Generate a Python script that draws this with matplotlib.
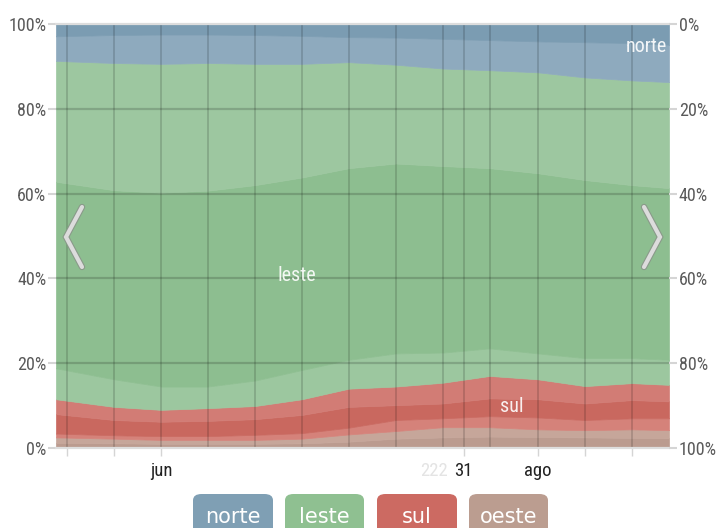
import matplotlib
matplotlib.use("Agg")
import matplotlib.pyplot as plt
from matplotlib.patches import FancyBboxPatch
from matplotlib.lines import Line2D
import matplotlib.patheffects as pe

# dias contados a partir de 1 de junho
days = [-17, -7.6, 0, 7.6, 15.2, 22.8, 30.4, 38, 45.6, 53.2, 61, 68.6, 76.2, 82.2]

# participação (%) de cada faixa, de baixo para cima
oeste_1 = [1.2, 1.1, 1.0, 1.0, 1.0, 1.1, 1.5, 2.2, 2.5, 2.7, 2.6, 2.5, 2.4, 2.3]
oeste_2 = [1.3, 1.1, 0.9, 0.9, 0.9, 1.1, 1.7, 1.8, 2.4, 2.2, 1.8, 1.7, 2.0, 1.9]
sul_1 = [0.9, 0.8, 0.9, 0.9, 1.2, 1.3, 1.6, 2.6, 2.1, 2.6, 2.8, 2.4, 2.6, 2.8]
sul_2 = [4.6, 3.6, 3.4, 3.6, 3.7, 4.3, 4.9, 3.5, 3.5, 4.2, 4.3, 3.9, 4.3, 4.0]
sul_3 = [3.5, 3.1, 2.8, 3.0, 3.1, 3.7, 4.3, 4.4, 4.9, 5.3, 4.7, 4.1, 4.0, 3.9]
leste_1 = [7.3, 6.5, 5.5, 5.1, 6.0, 6.9, 6.8, 7.8, 7.1, 6.5, 6.1, 6.6, 5.9, 5.9]
leste_2 = [44.0, 44.6, 45.7, 46.2, 46.1, 45.4, 45.2, 44.8, 44.0, 42.5, 42.5, 42.0, 40.8, 40.5]
leste_3 = [28.5, 30.0, 30.4, 30.1, 28.6, 26.8, 25.0, 23.3, 23.0, 23.1, 23.8, 24.2, 24.7, 25.0]
norte_1 = [5.8, 6.6, 6.9, 6.7, 6.8, 6.6, 5.9, 6.4, 7.0, 7.1, 7.3, 8.3, 8.8, 8.8]
norte_2 = [2.9, 2.6, 2.5, 2.5, 2.6, 2.8, 3.1, 3.2, 3.5, 3.8, 4.1, 4.3, 4.5, 4.9]

band_colors = ['#bb9b8f', '#c6a69a', '#d5827a', '#c9685f', '#d27c75',
               '#9cc79f', '#8dbe90', '#9dc7a0', '#8eaabe', '#7b9cb2']

grid_days = [-15.2, -7.6, 0, 7.6, 15.2, 22.8, 30.4, 38, 45.6, 49, 53.2, 61, 68.6, 76.2]
tick_days = [-15.2, -7.6, 0, 49, 61, 68.6, 76.2]
tick_labels = ['', '', 'jun', '31', 'ago', '', '']
y_ticks = [0, 20, 40, 60, 80, 100]

legend_names = ['norte', 'leste', 'sul', 'oeste']
legend_colors = ['#7f9fb4', '#8fc091', '#cc6a62', '#bb9d90']

narrow = ['Roboto Condensed', 'Liberation Sans Narrow', 'Liberation Sans', 'DejaVu Sans']

fig = plt.figure(figsize=(7.16, 5.28), dpi=100)
ax = fig.add_axes([56 / 716, 80 / 528, 613 / 716, 424 / 528])

polys = ax.stackplot(days, oeste_1, oeste_2, sul_1, sul_2, sul_3,
                     leste_1, leste_2, leste_3, norte_1, norte_2,
                     colors=band_colors)
for p, c in zip(polys, band_colors):
    p.set_edgecolor(c)
    p.set_linewidth(0.5)

ax.set_xlim(-17, 82.2)
ax.set_ylim(0, 100)
for s in ax.spines.values():
    s.set_visible(False)

# grade escura por cima das áreas
for d in grid_days:
    ax.axvline(d, color='black', alpha=0.17, lw=1.2)
for v in y_ticks[1:-1]:
    ax.axhline(v, color='black', alpha=0.17, lw=1.6)
ax.axhline(100, color='#dddddd', lw=1.6, clip_on=False)
ax.axhline(0, color='#dddddd', lw=1.6, clip_on=False)

ax.set_yticks(y_ticks)
ax.set_yticklabels([f'{v}%' for v in y_ticks], family=narrow)
ax.tick_params(axis='y', length=6, width=1.5, color='#d5d5d5', pad=1,
               labelsize=13, labelcolor='#5a5a5a')

ax.set_xticks(tick_days)
ax.set_xticklabels(tick_labels, family=narrow)
ax.tick_params(axis='x', length=6, width=1, color='#d5d5d5', pad=4,
               labelsize=13.5, labelcolor='#222222')
ax.text(46.4, -3.3, '222', family=narrow, fontsize=13.5, color='#e4e4e4',
        ha='right', va='top')

ax2 = ax.twinx()
ax2.set_ylim(0, 100)
for s in ax2.spines.values():
    s.set_visible(False)
ax2.set_yticks(y_ticks)
ax2.set_yticklabels([f'{100 - v}%' for v in y_ticks], family=narrow)
ax2.tick_params(axis='y', length=6, width=1.5, color='#d5d5d5', pad=1,
                labelsize=13, labelcolor='#5a5a5a')

# rótulos dentro das áreas
ax.text(78.6, 94.8, 'norte', family=narrow, fontsize=14.5, color='white',
        alpha=0.9, ha='center', va='center')
ax.text(22.0, 40.8, 'leste', family=narrow, fontsize=14.5, color='white',
        alpha=0.9, ha='center', va='center')
ax.text(56.8, 9.7, 'sul', family=narrow, fontsize=14.5, color='white',
        alpha=0.9, ha='center', va='center')

# setas de navegação
W, H = 716, 528
for pts in ([(82, 207), (66, 237), (82, 267)], [(644, 207), (660, 237), (644, 267)]):
    xs = [p[0] / W for p in pts]
    ys = [1 - p[1] / H for p in pts]
    fig.add_artist(Line2D(xs, ys, color='#dcdcdc', lw=3, solid_capstyle='round',
                          solid_joinstyle='miter',
                          path_effects=[pe.Stroke(linewidth=4.6, foreground='#8a9a8a'),
                                        pe.Normal()]))

# legenda em botões
boxes = [(193, 273), (285, 364), (377, 457), (469, 548)]
for (x0, x1), name, col in zip(boxes, legend_names, legend_colors):
    fig.add_artist(FancyBboxPatch((x0 / W, 1 - 545 / H), (x1 - x0) / W, 51 / H,
                                  boxstyle='round,pad=0,rounding_size=0.012',
                                  fc=col, ec='none', transform=fig.transFigure))
    fig.text((x0 + x1) / 2 / W, 1 - 523 / H, name, color='white', fontsize=15,
             ha='center', va='baseline')

fig.savefig('out.png', dpi=100)
